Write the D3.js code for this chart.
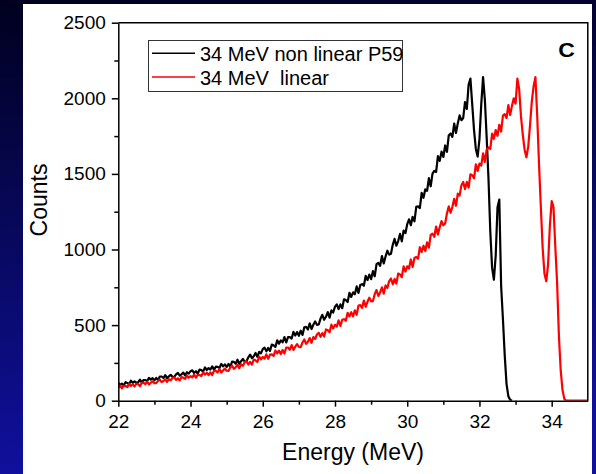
<!DOCTYPE html>
<html><head><meta charset="utf-8">
<script src="https://cdn.jsdelivr.net/npm/d3@7"></script>
<style>html,body{margin:0;padding:0;background:#000020;} svg{display:block;}</style>
</head><body><svg id="chart" width="596" height="474"></svg>
<script>
// Channel grid of the spectra (MeV)
const energyStart = 22, energyStep = 0.05;

// Series 1: 34 MeV non linear P59 (black), counts per channel from 22.00 MeV
const blackCounts = [
119,104,113,101,122,117,110,132,118,128,118,
122,139,120,137,136,130,151,139,149,135,
151,136,160,160,150,169,149,161,171,158,
158,174,184,166,174,186,167,188,179,195,
201,183,195,180,206,202,192,220,203,216,
206,227,204,225,224,216,243,227,240,223,
243,224,258,257,244,271,244,261,276,259,
260,287,305,281,294,316,290,323,313,341,
351,327,349,329,371,366,355,399,377,399,
386,421,385,420,421,411,455,431,454,429,
463,435,486,488,471,511,474,502,524,502,
504,543,568,535,555,586,549,597,583,622,
637,606,637,612,671,666,652,714,686,717,
704,756,713,765,771,760,826,798,834,804,
857,823,903,911,892,957,908,954,992,966,
972,1031,1070,1025,1056,1103,1054,1125,1108,1167,
1200,1160,1216,1186,1282,1285,1274,1375,1342,1398,
1388,1472,1418,1502,1520,1513,1617,1586,1647,1612,
1688,1646,1754,1767,1745,1833,1771,1834,1887,1855,
1870,1975,1930,2090,2130,1960,1790,1665,1615,1730,
1960,2140,1990,1740,1470,1120,880,800,960,1280,
1330,760,540,300,110,30,6,0
];

// Series 2: 34 MeV linear (red), counts per channel from 22.00 MeV
const redCounts = [
85,101,82,98,97,90,111,98,108,94,112,
110,96,118,118,109,126,107,119,127,116,
116,131,140,123,130,141,124,143,134,150,
154,138,148,134,157,152,144,167,152,163,
154,173,152,171,170,163,187,173,185,169,
187,170,198,198,186,209,186,200,212,198,
197,219,232,211,221,238,214,241,231,254,
260,239,257,239,272,267,256,292,273,289,
278,307,277,305,306,296,332,313,331,309,
335,312,352,352,337,368,336,357,374,355,
354,385,405,376,390,414,383,421,408,438,
449,422,447,424,471,466,453,503,478,502,
490,532,494,535,539,529,581,557,585,558,
598,568,629,632,614,662,621,654,681,657,
659,704,732,693,716,750,708,762,746,791,
808,770,805,774,841,835,818,888,854,889,
874,934,884,944,951,939,1015,983,1025,990,
1048,1012,1096,1104,1084,1152,1100,1148,1188,1160,
1172,1239,1285,1243,1281,1335,1289,1369,1356,1424,
1447,1400,1447,1409,1497,1491,1471,1563,1520,1568,
1555,1636,1579,1660,1675,1665,1766,1732,1790,1752,
1825,1780,1885,1895,1870,1955,1890,1950,2000,1965,
2130,2060,1880,1760,1660,1610,1680,1820,1980,2080,
2140,1880,1560,1280,1010,840,790,900,1160,1320,
1280,1020,780,430,200,70,12,0,0,0,
0,0,0,0,0,0,0,0,0,0
];

const seriesNames = ["34 MeV non linear P59", "34 MeV  linear"];
const seriesColors = ["#000000", "#ff0000"];
const panelLabel = "C";
const xTitle = "Energy (MeV)";
const yTitle = "Counts";
const xTicks = [22, 24, 26, 28, 30, 32, 34];
const xMinorTicks = [23, 25, 27, 29, 31, 33];
const yTicks = [0, 500, 1000, 1500, 2000, 2500];
const yMinorTicks = [250, 750, 1250, 1750, 2250];

const W = 596, H = 474;
const FONT = "'Liberation Sans', Arial, sans-serif";
const svg = d3.select("#chart");
const defs = svg.append("defs");
const grad = defs.append("linearGradient").attr("id", "bg")
  .attr("x1", 0).attr("y1", 0).attr("x2", 0.15).attr("y2", 1);
grad.append("stop").attr("offset", "0%").attr("stop-color", "#00001e");
grad.append("stop").attr("offset", "100%").attr("stop-color", "#1010a0");
svg.append("rect").attr("width", W).attr("height", H).attr("fill", "url(#bg)");
svg.append("rect").attr("x", 23).attr("y", 4).attr("width", 569).attr("height", 480).attr("fill", "#ffffff");

const m = {l: 118.3, r: 587.8, t: 22.7, b: 400.7};
const x = d3.scaleLinear().domain([22, 35]).range([m.l, m.r]);
const y = d3.scaleLinear().domain([0, 2500]).range([m.b, m.t]);

defs.append("clipPath").attr("id", "clip").append("rect")
  .attr("x", m.l).attr("y", m.t - 2).attr("width", m.r - m.l).attr("height", m.b - m.t + 2);

// data lines
const line = d3.line()
  .x((d, i) => x(energyStart + i * energyStep))
  .y(d => y(d));
const plot = svg.append("g").attr("clip-path", "url(#clip)");
[blackCounts, redCounts].forEach((arr, k) => {
  plot.append("path").datum(arr).attr("d", line)
    .attr("fill", "none").attr("stroke", seriesColors[k])
    .attr("stroke-width", 2.2).attr("stroke-linejoin", "round");
});

// axes
function styleAxis(g) {
  g.selectAll("path,line").attr("stroke", "#000").attr("stroke-width", 1.5);
  g.selectAll("text").attr("font-family", FONT).attr("font-size", 19).attr("fill", "#000");
}
const gx = svg.append("g").attr("transform", `translate(0,${m.b})`)
  .call(d3.axisBottom(x).tickValues(xTicks).tickSize(6).tickSizeOuter(0).tickPadding(7.5).tickFormat(d3.format("d")));
styleAxis(gx);
const gxm = svg.append("g").attr("transform", `translate(0,${m.b})`)
  .call(d3.axisBottom(x).tickValues(xMinorTicks).tickSize(4).tickSizeOuter(0).tickFormat(""));
gxm.select(".domain").remove();
styleAxis(gxm);

const gy = svg.append("g").attr("transform", `translate(${m.l},0)`)
  .call(d3.axisLeft(y).tickValues(yTicks).tickSize(6.5).tickSizeOuter(0).tickPadding(6).tickFormat(d3.format("d")));
styleAxis(gy);
const gym = svg.append("g").attr("transform", `translate(${m.l},0)`)
  .call(d3.axisLeft(y).tickValues(yMinorTicks).tickSize(4).tickSizeOuter(0).tickFormat(""));
gym.select(".domain").remove();
styleAxis(gym);

// frame top & right
svg.append("path")
  .attr("d", `M${m.l},${m.t}H${m.r}V${m.b}`)
  .attr("fill", "none").attr("stroke", "#000").attr("stroke-width", 1.5);

// axis titles
svg.append("text").attr("x", (m.l + m.r) / 2).attr("y", 460)
  .attr("text-anchor", "middle").attr("font-family", FONT).attr("font-size", 23)
  .text(xTitle);
svg.append("text").attr("transform", "translate(46.5,200) rotate(-90)")
  .attr("text-anchor", "middle").attr("font-family", FONT).attr("font-size", 23)
  .text(yTitle);

// legend
const lg = svg.append("g");
lg.append("rect").attr("x", 148.5).attr("y", 40.5).attr("width", 254).attr("height", 51)
  .attr("fill", "#fff").attr("stroke", "#333").attr("stroke-width", 1);
const legendRows = [53.3, 77];
seriesNames.forEach((name, k) => {
  lg.append("line").attr("x1", 152).attr("x2", 195).attr("y1", legendRows[k]).attr("y2", legendRows[k])
    .attr("stroke", seriesColors[k]).attr("stroke-width", 1.5);
  lg.append("text").attr("x", 200).attr("y", legendRows[k] + 7.5)
    .attr("font-family", FONT).attr("font-size", 20).style("white-space", "pre")
    .attr("xml:space", "preserve")
    .text(name);
});

// panel label
svg.append("text").attr("transform", "translate(566.5,56.5) scale(1.15,1)")
  .attr("text-anchor", "middle").attr("font-family", FONT).attr("font-size", 20)
  .attr("font-weight", "bold").text(panelLabel);
</script></body></html>
